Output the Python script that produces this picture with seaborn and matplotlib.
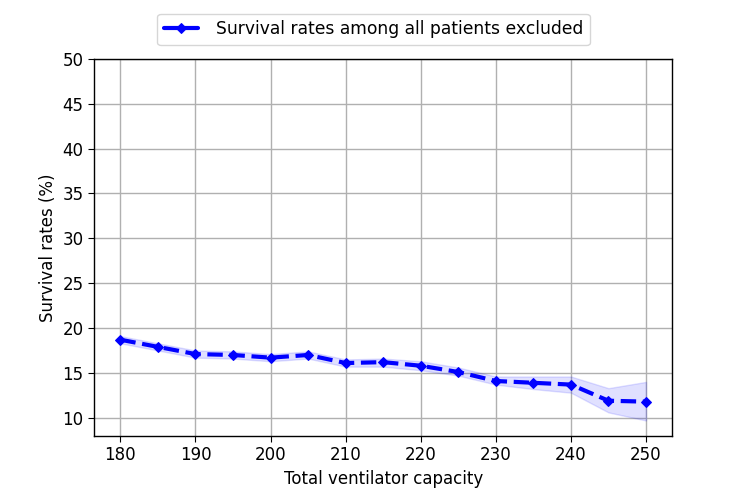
import matplotlib
matplotlib.use("Agg")
import matplotlib.pyplot as plt
import seaborn as sns
import pandas as pd

capacity = [180, 185, 190, 195, 200, 205, 210, 215, 220, 225, 230, 235, 240, 245, 250]
survival = [18.7, 17.9, 17.1, 17.0, 16.7, 17.0, 16.1, 16.2, 15.8, 15.1, 14.1, 13.9, 13.7, 11.9, 11.8]
lower = [18.3, 17.5, 16.7, 16.6, 16.3, 16.6, 15.7, 15.7, 15.3, 14.7, 13.7, 13.2, 12.8, 10.6, 9.7]
upper = [19.1, 18.3, 17.5, 17.4, 17.1, 17.4, 16.5, 16.6, 16.3, 15.6, 14.6, 14.6, 14.6, 13.3, 14.0]

sns.set_style("ticks")
plt.rcParams['font.family'] = ['DejaVu Sans']
plt.rcParams['text.color'] = 'black'
plt.rcParams['axes.labelcolor'] = 'black'
plt.rcParams['xtick.color'] = 'black'
plt.rcParams['ytick.color'] = 'black'

df = pd.DataFrame({"cap": capacity, "surv": survival})

fig, ax = plt.subplots(figsize=(7.47, 4.98), dpi=100)
fig.subplots_adjust(left=0.126, right=0.9, top=0.882, bottom=0.125)

ax.fill_between(capacity, lower, upper, color="blue", alpha=0.12, linewidth=1)
sns.lineplot(data=df, x="cap", y="surv", ax=ax, color="blue", linestyle="--",
             linewidth=3, marker="D", markersize=5.5, markeredgecolor="blue",
             label="Survival rates among all patients excluded", legend=False)

ax.set_ylim(8, 50)
ax.set_yticks(range(10, 51, 5))
ax.set_xticks(range(180, 251, 10))
ax.grid(True, color="#b0b0b0", linewidth=1)
ax.set_axisbelow(True)
for s in ax.spines.values():
    s.set_color("black")
    s.set_linewidth(1)
ax.tick_params(labelsize=12, color="black", length=4, labelcolor="black")
ax.set_xlabel("Total ventilator capacity", fontsize=12, color="black")
ax.set_ylabel("Survival rates (%)", fontsize=12, color="black")

handles, labels = ax.get_legend_handles_labels()
leg = fig.legend(handles, labels, loc="upper center", bbox_to_anchor=(0.5, 0.99),
                 fontsize=12.3, frameon=True, fancybox=True, handlelength=2,
                 handletextpad=1.0)
leg.get_frame().set_edgecolor("#cccccc")
for line in leg.get_lines():
    line.set_linestyle("-")
    line.set_linewidth(3)
for t in leg.get_texts():
    t.set_color("black")

fig.savefig("out.png", dpi=100)
